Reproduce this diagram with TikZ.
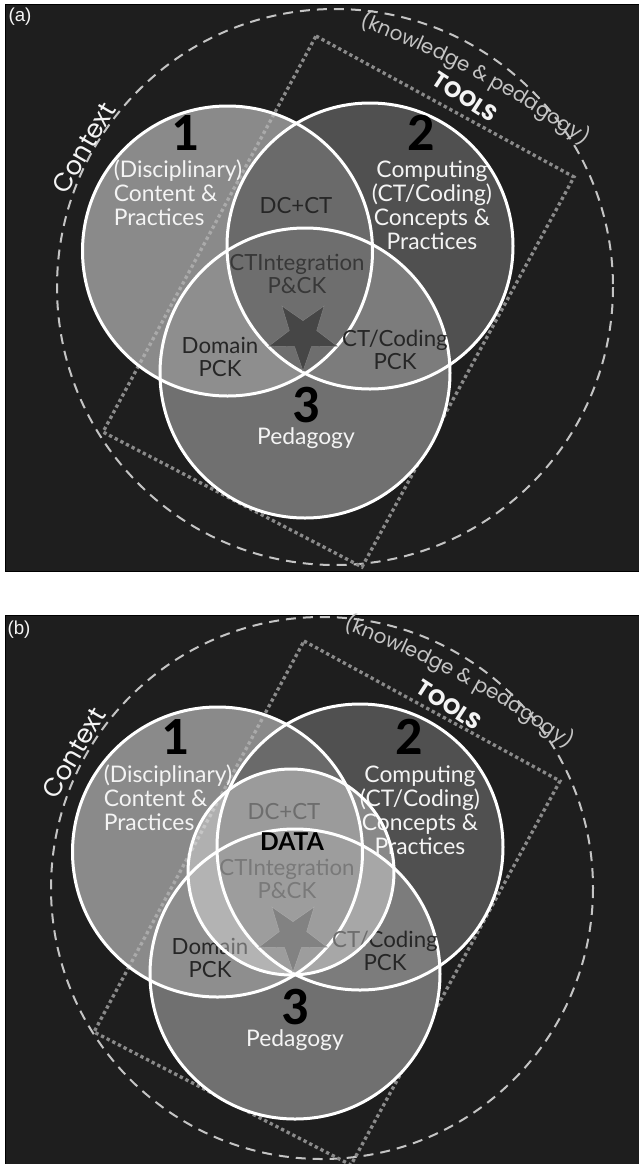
\documentclass[tikz,border=0pt]{standalone}
\usepackage{fontspec}
\setmainfont{Lato}
\newfontfamily\numfont{Carlito}
\newfontfamily\gothfont{Poppins}
\newfontfamily\tagfont{Liberation Sans}
\usetikzlibrary{positioning,shapes.geometric,decorations.text}

\definecolor{panelbg}{HTML}{1E1E1E}
\definecolor{ringone}{HTML}{8A8A8A}
\definecolor{ringtwo}{HTML}{505050}
\definecolor{ringthree}{HTML}{707070}
\definecolor{onetwo}{HTML}{6A6A6A}
\definecolor{onethree}{HTML}{8E8E8E}
\definecolor{twothree}{HTML}{7C7C7C}
\definecolor{allthree}{HTML}{6E6E6E}
\definecolor{dashgray}{HTML}{C4C4C4}
\definecolor{dotgray}{HTML}{8A8A8A}
\definecolor{dotlight}{HTML}{AAAAAA}
\definecolor{labelwhite}{HTML}{F4F4F4}
\definecolor{labeldark}{HTML}{262626}
\definecolor{labelmid}{HTML}{383838}
\definecolor{stargray}{HTML}{464646}

\tikzset{
	panel/.style={fill=panelbg,draw=black,line width=0.5pt},
	ring/.style={draw=white,line width=0.09cm},
	contextring/.style={draw=dashgray,line width=0.06cm,dash pattern=on 0.3cm off 0.21cm},
	toolsbox/.style={draw=dotgray,line width=0.1cm,dash pattern=on 0.1cm off 0.09cm},
	whitelabel/.style={text=labelwhite,font=\fontsize{19.5}{20.5}\selectfont,inner sep=0pt},
	darklabel/.style={text=labeldark,font=\fontsize{19}{20}\selectfont,align=center,inner sep=0pt},
	bignum/.style={text=black,font=\numfont\bfseries\fontsize{46}{46}\selectfont,inner sep=0pt},
	pentastar/.style={star,star points=5,star point ratio=2.5,minimum size=2.16cm,inner sep=0pt,shape border rotate=180,fill=stargray,draw=gray,line width=0.4pt},
	gothlabel/.style={text=labelwhite,font=\gothfont\fontsize{22}{22}\selectfont,inner sep=0pt},
	toolslabel/.style={text=labelwhite,font=\gothfont\bfseries\fontsize{19}{19}\selectfont,inner sep=0pt},
	paneltag/.style={text=labelwhite,font=\tagfont\fontsize{16}{16}\selectfont,inner sep=0pt}
}

\begin{document}
\begin{tikzpicture}[x=0.03cm,y=-0.03cm]
	\useasboundingbox (0,0) rectangle (639,1164);
	\fill[white] (0,0) rectangle (639,1164);
	\path[panel] (5,4) rectangle (639,571);
	\path[panel] (5,615) rectangle (639,1168);
	\node[paneltag] (taga) at (20,17) {(a)};
	\node[paneltag] (tagb) at (19,630) {(b)};

	% panel (a)
	\coordinate (ca1) at (227.5,251);
	\coordinate (ca2) at (370,246);
	\coordinate (ca3) at (305,373);
	\draw[contextring] (335,287) circle[radius=278];
	\draw[toolsbox] (316,36) -- (574,177) -- (362,567) -- (103,432) -- cycle;
	\fill[ringone] (ca1) circle[radius=145];
	\fill[ringtwo] (ca2) circle[radius=143];
	\fill[ringthree] (ca3) circle[radius=145];
	\begin{scope}
		\clip (ca2) circle[radius=143];
		\fill[twothree] (ca3) circle[radius=145];
	\end{scope}
	\begin{scope}
		\clip (ca1) circle[radius=145];
		\draw[toolsbox,draw=dotlight] (316,36) -- (103,432);
		\fill[onetwo] (ca2) circle[radius=143];
		\fill[onethree] (ca3) circle[radius=145];
		\clip (ca2) circle[radius=143];
		\fill[allthree] (ca3) circle[radius=145];
	\end{scope}
	\draw[ring] (ca1) circle[radius=145];
	\draw[ring] (ca2) circle[radius=143];
	\draw[ring] (ca3) circle[radius=145];
	\node[pentastar] (stara) at (303,335) {};
	\node[bignum] (na1) at (185,133) {1};
	\node[whitelabel,align=left] (ta1) at (178,193) {(Disciplinary)\\Content \&\\Practices};
	\node[bignum] (na2) at (421,133) {2};
	\node[whitelabel,align=center] (ta2) at (432,205) {Computing\\(CT/Coding)\\Concepts \&\\Practices};
	\node[darklabel] (dca) at (296,206) {DC+CT};
	\node[darklabel,text=labelmid] (cia) at (297,274) {CTIntegration\\P\&CK};
	\node[darklabel] (doma) at (220,357) {Domain\\PCK};
	\node[darklabel] (pcka) at (395,350) {CT/Coding\\PCK};
	\node[bignum] (na3) at (306,405) {3};
	\node[whitelabel,below=0.12cm of na3] (ta3) {Pedagogy};
	\node[gothlabel,rotate=60] (ctxa) at (84,148) {Context};
	\node[toolslabel,rotate=-33] (toola) at (465,97) {TOOLS};
	\path[decorate,decoration={text along path,text align=left,
		text={|\gothfont\fontsize{17}{17}\selectfont\color{dashgray}|(knowledge {\&} pedagogy)}}]
		(359,25) to[bend left=7] (604,160);

	% panel (b)
	\begin{scope}[shift={(-10,601)}]
		\coordinate (cb1) at (227.5,251);
		\coordinate (cb2) at (370,246);
		\coordinate (cb3) at (305,373);
		\coordinate (cb4) at (301,271);
		\draw[contextring] (332,287) circle[radius=271];
		\draw[toolsbox] (314,40) -- (570,180) -- (361,564) -- (104,431) -- cycle;
		\fill[ringone] (cb1) circle[radius=145];
		\fill[ringtwo] (cb2) circle[radius=143];
		\fill[ringthree] (cb3) circle[radius=145];
		\begin{scope}
			\clip (cb2) circle[radius=143];
			\fill[twothree] (cb3) circle[radius=145];
		\end{scope}
		\begin{scope}
			\clip (cb1) circle[radius=145];
			\draw[toolsbox,draw=dotlight] (314,40) -- (104,431);
			\fill[onetwo] (cb2) circle[radius=143];
			\fill[onethree] (cb3) circle[radius=145];
			\clip (cb2) circle[radius=143];
			\fill[allthree] (cb3) circle[radius=145];
		\end{scope}
		\draw[ring] (cb1) circle[radius=145];
		\draw[ring] (cb2) circle[radius=143];
		\draw[ring] (cb3) circle[radius=145];
		\node[pentastar] (starb) at (303,335) {};
		\node[bignum] (nb1) at (185,136) {1};
		\node[whitelabel,align=left] (tb1) at (178,197) {(Disciplinary)\\Content \&\\Practices};
		\node[bignum] (nb2) at (419,136) {2};
		\node[whitelabel,align=center] (tb2) at (430,209) {Computing\\(CT/Coding)\\Concepts \&\\Practices};
		\node[darklabel] (dcb) at (294,211) {DC+CT};
		\node[darklabel,text=labelmid] (cib) at (297,278) {CTIntegration\\P\&CK};
		\node[darklabel] (domb) at (220,357) {Domain\\PCK};
		\node[darklabel] (pckb) at (395,350) {CT/Coding\\PCK};
		\fill[white,opacity=0.33] (cb4) circle[radius=103];
		\draw[ring] (cb4) circle[radius=103];
		\node[darklabel,text=black,font=\bfseries\fontsize{21}{21}\selectfont] (datab) at (302,241) {DATA};
		\node[bignum] (nb3) at (305,406) {3};
		\node[whitelabel,below=0.12cm of nb3] (tb3) {Pedagogy};
		\node[gothlabel,rotate=60] (ctxb) at (84,152) {Context};
		\node[toolslabel,rotate=-33] (toolb) at (459,104) {TOOLS};
		\path[decorate,decoration={text along path,text align=left,
			text={|\gothfont\fontsize{17}{17}\selectfont\color{dashgray}|(knowledge {\&} pedagogy)}}]
			(353,27) to[bend left=7] (598,162);
	\end{scope}
\end{tikzpicture}
\end{document}
